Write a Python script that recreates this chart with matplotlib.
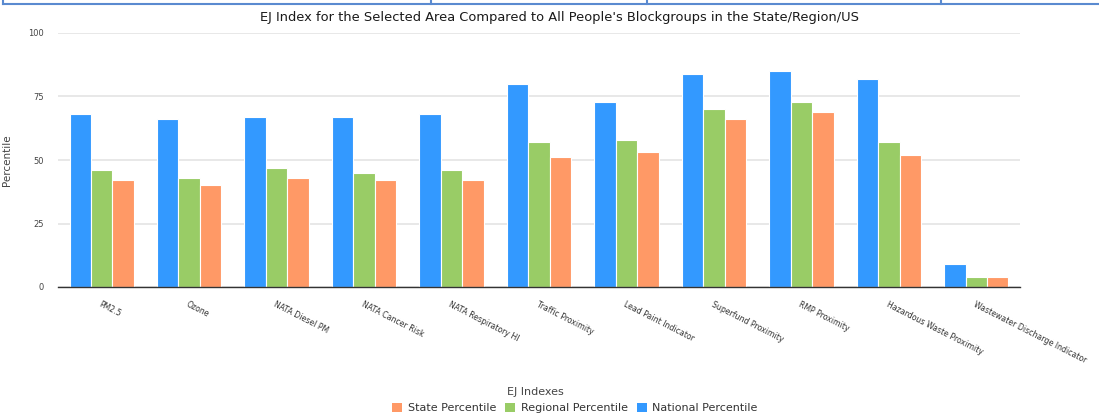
import matplotlib
matplotlib.use("Agg")
import matplotlib.pyplot as plt
from matplotlib.lines import Line2D
from matplotlib.patches import Patch
import numpy as np

categories = ["PM2.5", "Ozone", "NATA Diesel PM", "NATA Cancer Risk", "NATA Respiratory HI",
              "Traffic Proximity", "Lead Paint Indicator", "Superfund Proximity", "RMP Proximity",
              "Hazardous Waste Proximity", "Wastewater Discharge Indicator"]
national = [68, 66, 67, 67, 68, 80, 73, 84, 85, 82, 9]
regional = [46, 43, 47, 45, 46, 57, 58, 70, 73, 57, 4]
state = [42, 40, 43, 42, 42, 51, 53, 66, 69, 52, 4]
yticks = [0, 25, 50, 75, 100]

C_NAT = "#3399ff"
C_REG = "#99cc66"
C_STA = "#ff9966"
FONT = "DejaVu Sans"

W, H = 1099, 417
fig = plt.figure(figsize=(W / 100, H / 100), dpi=100)
ax = fig.add_axes([58 / W, 1 - 287 / H, (1020 - 58) / W, (287 - 33) / H])

x = np.arange(len(categories))
bw = 0.245
ax.bar(x - bw, national, bw, color=C_NAT, edgecolor="white", linewidth=0.8, zorder=3)
ax.bar(x, regional, bw, color=C_REG, edgecolor="white", linewidth=0.8, zorder=3)
ax.bar(x + bw, state, bw, color=C_STA, edgecolor="white", linewidth=0.8, zorder=3)

ax.set_xlim(-0.5, len(categories) - 0.5)
ax.set_ylim(0, 100)
ax.set_yticks(yticks)
ax.set_yticklabels([str(v) for v in yticks], fontsize=6, color="#444444", family=FONT)
ax.tick_params(axis="y", length=0, pad=10)
ax.yaxis.grid(True, color="#e6e6e6", linewidth=1.3, zorder=0)
ax.set_axisbelow(True)
for s in ["left", "right", "top"]:
    ax.spines[s].set_visible(False)
ax.spines["bottom"].set_color("#333333")
ax.spines["bottom"].set_linewidth(1.0)
ax.spines["bottom"].set_zorder(4)

ax.set_xticks(x)
ax.set_xticklabels(categories, rotation=-27, ha="left", va="top", rotation_mode="anchor",
                   fontsize=5.6, color="#333333", family=FONT)
ax.tick_params(axis="x", length=0, pad=9)

ax.set_ylabel("Percentile", fontsize=7.5, color="#444444", family=FONT)
ax.yaxis.set_label_coords(-46 / (1020 - 58), 0.5)

fig.text(560 / W, 1 - 17 / H, "EJ Index for the Selected Area Compared to All People's Blockgroups in the State/Region/US",
         ha="center", va="center", fontsize=9.4, color="#1a1a1a", family=FONT)

fig.text(535 / W, 1 - 392 / H, "EJ Indexes", ha="center", va="center", fontsize=8, color="#444444", family=FONT)

handles = [Patch(facecolor=C_STA), Patch(facecolor=C_REG), Patch(facecolor=C_NAT)]
labels = ["State Percentile", "Regional Percentile", "National Percentile"]
leg = fig.legend(handles, labels, loc="center", bbox_to_anchor=(575 / W, 1 - 408 / H), ncol=3,
                 frameon=False, fontsize=8, handlelength=0.9, handleheight=0.9,
                 handletextpad=0.5, columnspacing=0.8, borderpad=0)
for t in leg.get_texts():
    t.set_color("#333333")

# table border fragment at the top
blue = "#5a8ad0"
fig.add_artist(Line2D([3 / W, 1], [1 - 4 / H, 1 - 4 / H], transform=fig.transFigure, color=blue, linewidth=1.5))
for xv in [3, 431, 647, 941]:
    fig.add_artist(Line2D([xv / W, xv / W], [1, 1 - 4 / H], transform=fig.transFigure, color=blue, linewidth=1.5))

fig.savefig("out.png", dpi=100)
